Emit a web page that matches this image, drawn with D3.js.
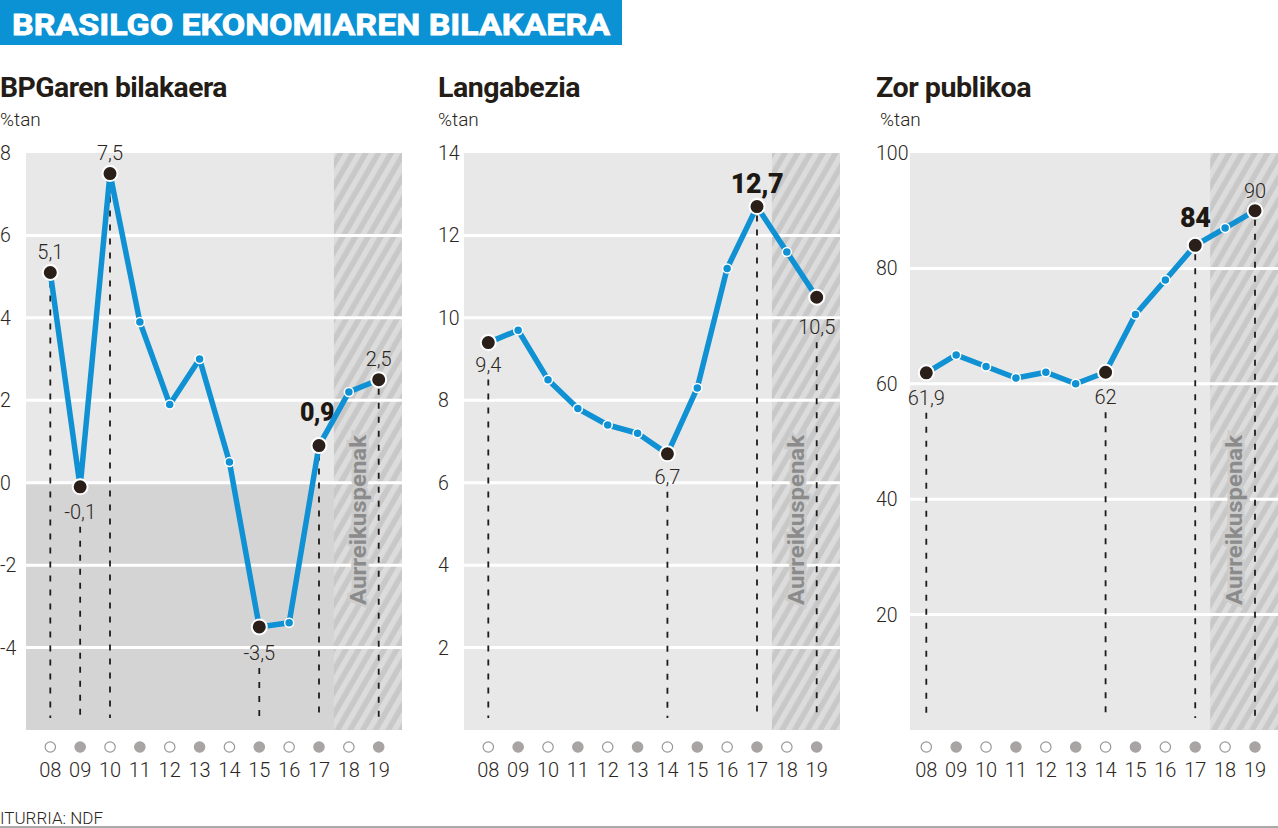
<!DOCTYPE html>
<html>
<head>
<meta charset="utf-8">
<script src="https://cdn.jsdelivr.net/npm/d3@7"></script>
<style>
  html, body { margin: 0; padding: 0; background: #ffffff; }
  svg { display: block; }
  text { font-family: Roboto, "Noto Sans", sans-serif; }
</style>
</head>
<body>
<svg id="chart" width="1278" height="828"></svg>
<script>
// ---------------- DATA ----------------
const mainTitle = "BRASILGO EKONOMIAREN BILAKAERA";
const years = ["08","09","10","11","12","13","14","15","16","17","18","19"];
const gdpGrowth   = [5.1, -0.1, 7.5, 3.9, 1.9, 3.0, 0.5, -3.5, -3.4, 0.9, 2.2, 2.5];
const unemployment = [9.4, 9.7, 8.5, 7.8, 7.4, 7.2, 6.7, 8.3, 11.2, 12.7, 11.6, 10.5];
const publicDebt  = [61.9, 65, 63, 61, 62, 60, 62, 72, 78, 84, 87, 90];
const gdpTicks = [-4, -2, 0, 2, 4, 6, 8];
const unemploymentTicks = [2, 4, 6, 8, 10, 12, 14];
const debtTicks = [20, 40, 60, 80, 100];
const panelTitles = ["BPGaren bilakaera", "Langabezia", "Zor publikoa"];
const unitLabel = "%tan";
const forecastLabel = "Aurreikuspenak";
const forecastFrom = "18";
const sourceLabel = "ITURRIA: NDF";

// ---------------- LAYOUT ----------------
const fmt = v => String(v).replace(".", ",");
const panels = [
  { title: panelTitles[0], values: gdpGrowth, ticks: gdpTicks, domain: [-6, 8],
    plot: [26, 402], pts: [50.3, 378.7], textX: 0, titleLen: 227, unitX: 0, shadeBelowZero: true,
    marks: [ {i:0, kind:"above", dy:-14}, {i:1, kind:"below", dy:32}, {i:2, kind:"above", dy:-14},
             {i:7, kind:"below", dy:33}, {i:9, kind:"bold", dy:-25, dx:-2, size:25}, {i:11, kind:"above", dy:-14} ] },
  { title: panelTitles[1], values: unemployment, ticks: unemploymentTicks, domain: [0, 14],
    plot: [464, 840], pts: [488.3, 816.7], textX: 438, titleLen: 142, unitX: 438,
    marks: [ {i:0, kind:"below", dy:29}, {i:6, kind:"below", dy:30}, {i:9, kind:"bold", dy:-14, size:27},
             {i:11, kind:"below", dy:37} ] },
  { title: panelTitles[2], values: publicDebt, ticks: debtTicks, domain: [0, 100],
    plot: [910, 1279], pts: [926.3, 1255], textX: 876, titleLen: 155, unitX: 880,
    marks: [ {i:0, kind:"below", dy:32}, {i:6, kind:"below", dy:32}, {i:9, kind:"bold", dy:-18, size:27},
             {i:11, kind:"above", dy:-13} ] }
];
const plotTop = 153, plotBottom = 730;
const blue = "#0f91d3", dark = "#2a2019", ink = "#2b2622";

const svg = d3.select("#chart");
const defs = svg.append("defs");
const pat = defs.append("pattern").attr("id", "hatch").attr("patternUnits", "userSpaceOnUse")
  .attr("width", 11).attr("height", 11).attr("patternTransform", "rotate(30)");
pat.append("rect").attr("width", 11).attr("height", 11).attr("fill", "#c8c8c8");
pat.append("rect").attr("x", 0).attr("width", 5.5).attr("height", 11).attr("fill", "#dcdcdc");

// Title banner
svg.append("rect").attr("x", 0).attr("y", 0).attr("width", 622).attr("height", 45).attr("fill", "#0a92d4");
svg.append("text").attr("x", 12).attr("y", 35).text(mainTitle)
  .attr("fill", "#fff").attr("font-family", "'DejaVu Sans', Roboto, sans-serif").attr("font-weight", 700)
  .attr("font-size", 30).attr("textLength", 598).attr("lengthAdjust", "spacingAndGlyphs")
  .attr("stroke", "#fff").attr("stroke-width", 0.8);

panels.forEach(p => {
  const g = svg.append("g");
  const x = d3.scalePoint().domain(years).range(p.pts);
  const y = d3.scaleLinear().domain(p.domain).range([plotBottom, plotTop]);
  const [L, R] = p.plot;

  // titles
  g.append("text").attr("x", p.textX).attr("y", 97).text(p.title)
    .attr("font-size", 28).attr("font-weight", 700).attr("fill", "#231c17")
    .attr("letter-spacing", -0.5)
    .attr("textLength", p.titleLen).attr("lengthAdjust", "spacingAndGlyphs");
  g.append("text").attr("x", p.unitX).attr("y", 126).text(unitLabel)
    .attr("font-size", 19).attr("font-weight", 300).attr("fill", ink);

  // background
  g.append("rect").attr("x", L).attr("y", plotTop).attr("width", R - L).attr("height", plotBottom - plotTop)
    .attr("fill", "#e8e8e8");
  if (p.shadeBelowZero) {
    g.append("rect").attr("x", L).attr("y", y(0)).attr("width", R - L).attr("height", plotBottom - y(0))
      .attr("fill", "#d5d4d4");
  }
  const hx = (x(forecastFrom) + x(years[years.indexOf(forecastFrom) - 1])) / 2;
  g.append("rect").attr("x", hx).attr("y", plotTop).attr("width", R - hx).attr("height", plotBottom - plotTop)
    .attr("fill", "url(#hatch)");

  // gridlines
  g.selectAll(".grid").data(p.ticks.filter(t => t !== p.domain[1])).join("line")
    .attr("x1", L).attr("x2", R).attr("y1", d => y(d)).attr("y2", d => y(d))
    .attr("stroke", "#fff").attr("stroke-width", 3);

  // y tick labels
  g.selectAll(".yt").data(p.ticks).join("text")
    .attr("x", p.textX).attr("y", d => y(d) + 7).text(d => d)
    .attr("font-size", 19.5).attr("font-weight", 300).attr("fill", ink);

  // forecast label
  g.append("text").text(forecastLabel)
    .attr("transform", `translate(${hx + 32},605) rotate(-90)`)
    .attr("font-size", 22).attr("font-weight", 700).attr("fill", "#8b8b8b")
    .attr("textLength", 170).attr("lengthAdjust", "spacingAndGlyphs")
    .attr("stroke", "#cdcdcd").attr("stroke-width", 5).attr("paint-order", "stroke");

  // dashed drop lines
  p.marks.forEach(m => {
    const px = x(years[m.i]), py = y(p.values[m.i]);
    const start = m.kind === "below" ? py + m.dy + 8 : py + 9;
    g.append("line").attr("x1", px).attr("x2", px).attr("y1", start).attr("y2", 718)
      .attr("stroke", "#1f1b18").attr("stroke-width", 1.8).attr("stroke-dasharray", "6,8");
  });

  // line
  const line = d3.line().x((d, i) => x(years[i])).y(d => y(d));
  g.append("path").datum(p.values).attr("d", line)
    .attr("fill", "none").attr("stroke", blue).attr("stroke-width", 5.5)
    .attr("stroke-linejoin", "round");

  const markedIdx = new Set(p.marks.map(m => m.i));
  // small points
  g.selectAll(".sp").data(p.values.map((v, i) => ({v, i})).filter(d => !markedIdx.has(d.i))).join("circle")
    .attr("cx", d => x(years[d.i])).attr("cy", d => y(d.v)).attr("r", 4.5)
    .attr("fill", blue).attr("stroke", "#fff").attr("stroke-width", 1.5);
  // big points
  g.selectAll(".bp").data(p.marks).join("circle")
    .attr("cx", m => x(years[m.i])).attr("cy", m => y(p.values[m.i])).attr("r", 7.5)
    .attr("fill", dark).attr("stroke", "#fff").attr("stroke-width", 2);

  // value labels
  p.marks.forEach(m => {
    const px = x(years[m.i]) + (m.dx || 0), py = y(p.values[m.i]);
    const t = g.append("text").attr("x", px).attr("y", py + m.dy).attr("text-anchor", "middle")
      .text(fmt(p.values[m.i]));
    if (m.kind === "bold") {
      t.attr("font-size", m.size).attr("font-weight", 900).attr("fill", "#1d1814").attr("letter-spacing", -0.5);
    } else {
      t.attr("font-size", 20).attr("font-weight", 300).attr("fill", ink);
    }
  });

  // x axis markers and labels
  g.selectAll(".xc").data(years).join("circle")
    .attr("cx", d => x(d)).attr("cy", 747).attr("r", 5.2)
    .attr("fill", (d, i) => i % 2 === 0 ? "#fff" : "#a8a4a4")
    .attr("stroke", (d, i) => i % 2 === 0 ? "#9a9696" : "#a8a4a4").attr("stroke-width", 1.2);
  g.selectAll(".xl").data(years).join("text")
    .attr("x", d => x(d)).attr("y", 777).attr("text-anchor", "middle").text(d => d)
    .attr("font-size", 20).attr("font-weight", 300).attr("fill", ink);
});

// source and bottom rule
svg.append("text").attr("x", 0).attr("y", 824).text(sourceLabel)
  .attr("font-size", 17).attr("font-weight", 300).attr("fill", ink)
  .attr("textLength", 103).attr("lengthAdjust", "spacingAndGlyphs");
svg.append("line").attr("x1", 0).attr("x2", 1278).attr("y1", 827).attr("y2", 827)
  .attr("stroke", "#8e8e8e").attr("stroke-width", 1.5);
</script>
</body>
</html>
